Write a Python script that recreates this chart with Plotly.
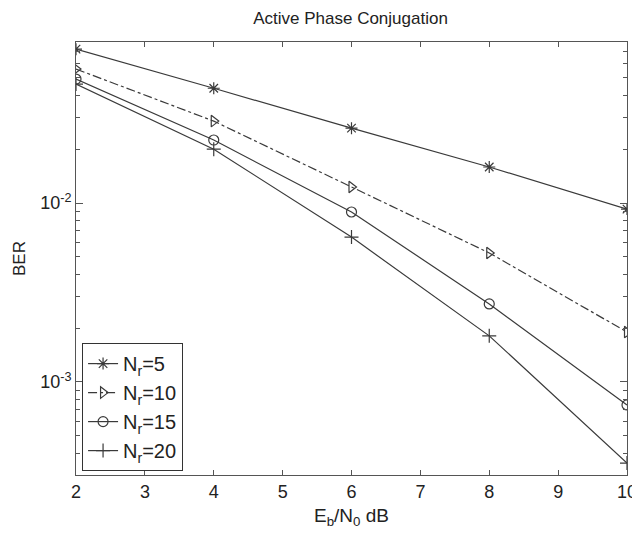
import plotly.graph_objects as go

ebn0 = [2, 4, 6, 8, 10]
ber_nr5 = [0.0724, 0.0438, 0.0262, 0.0159, 0.00925]
ber_nr10 = [0.0561, 0.0287, 0.0123, 0.00526, 0.0019]
ber_nr15 = [0.0493, 0.0225, 0.00891, 0.00273, 0.000744]
ber_nr20 = [0.0462, 0.0200, 0.00645, 0.00181, 0.000352]
names = ["N<sub>r</sub>=5", "N<sub>r</sub>=10", "N<sub>r</sub>=15", "N<sub>r</sub>=20"]
ytick_vals = [0.001, 0.01]
ytick_text = ["10<sup>-3</sup>", "10<sup>-2</sup>"]
xtick_vals = [2, 3, 4, 5, 6, 7, 8, 9, 10]

col = "#3a3a3a"
font = "Liberation Sans, Arial, sans-serif"

fig = go.Figure()
series = [ber_nr5, ber_nr10, ber_nr15, ber_nr20]
symbols = ["asterisk-open", "triangle-right-open", "circle-open", "cross-thin-open"]
dashes = ["solid", "dashdot", "solid", "solid"]
for vals, nm, sym, ds in zip(series, names, symbols, dashes):
    fig.add_trace(go.Scatter(
        x=ebn0, y=vals, name=nm, mode="lines+markers",
        line=dict(color=col, width=1.2, dash=ds),
        marker=dict(symbol=sym, size=10, color=col, line=dict(color=col, width=1.2)),
    ))

axis_common = dict(
    showline=True, linecolor="#555", linewidth=1, mirror="ticks",
    ticks="inside", tickcolor="#555", showgrid=False, zeroline=False,
    automargin=False,
    tickfont=dict(family=font, size=18, color="#222"),
)
fig.update_xaxes(range=[2, 10], tickvals=xtick_vals, ticklen=5,
                 title=dict(text="E<sub>b</sub>/N<sub>0</sub> dB", standoff=8,
                            font=dict(family=font, size=19, color="#222")),
                 **axis_common)
fig.update_yaxes(type="log", range=[-3.52, -1.10], tickvals=ytick_vals, ticktext=ytick_text,
                 ticklen=7,
                 minor=dict(ticks="inside", ticklen=4, tickcolor="#555", dtick="D1"),
                 title=dict(text="BER", standoff=10, font=dict(family=font, size=17, color="#222")),
                 **axis_common)

fig.update_layout(
    width=632, height=525,
    margin=dict(l=68, r=13, t=34, b=58),
    paper_bgcolor="white", plot_bgcolor="white",
    title=dict(text="Active Phase Conjugation", x=0.542, xanchor="center", y=0.981, yanchor="middle",
               font=dict(family=font, size=17, color="#222")),
    legend=dict(x=0.011, y=0.009, xanchor="left", yanchor="bottom",
                bordercolor="#333", borderwidth=1, bgcolor="white",
                font=dict(family=font, size=20, color="#222"), itemwidth=30, tracegroupgap=0),
    showlegend=True,
)

fig.write_html("out.html")
